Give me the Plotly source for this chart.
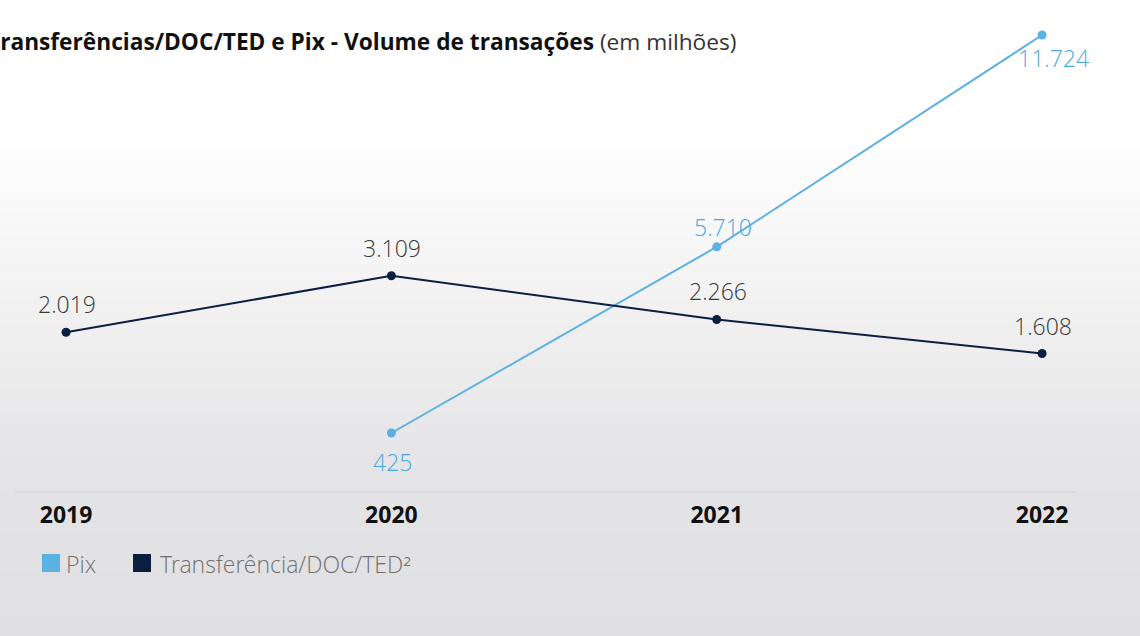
import plotly.graph_objects as go

years = ["2019", "2020", "2021", "2022"]
pix_years = ["2020", "2021", "2022"]
pix_values = [425, 5710, 11724]
ted_values = [2019, 3109, 2266, 1608]
pix_labels = ["425", "5.710", "11.724"]
ted_labels = ["2.019", "3.109", "2.266", "1.608"]
legend_names = ["Pix", "Transferência/DOC/TED²"]

W, H = 1140, 636
PLOT_BOTTOM = 492  # px from top

PIX_COLOR = "#5cb1e3"
PIX_TEXT = "#4aa9dc"
TED_COLOR = "#0c1f40"
FONT = "Open Sans"
LIGHT = "Open Sans Light, Open Sans"

def py(px):
    return (PLOT_BOTTOM - px) / PLOT_BOTTOM

fig = go.Figure()

fig.add_trace(go.Scatter(
    x=years, y=ted_values, yaxis="y2", mode="lines+markers",
    line=dict(color=TED_COLOR, width=2), marker=dict(color=TED_COLOR, size=9),
    showlegend=False, cliponaxis=False, hoverinfo="skip"))

fig.add_trace(go.Scatter(
    x=pix_years, y=pix_values, mode="lines+markers",
    line=dict(color=PIX_COLOR, width=2), marker=dict(color=PIX_COLOR, size=9),
    showlegend=False, cliponaxis=False, hoverinfo="skip"))

annotations = []
for x, v, t in zip(years, ted_values, ted_labels):
    annotations.append(dict(x=years.index(x), y=v, xref="x", yref="y2", text=t,
                            showarrow=False, yshift=28, xshift=1,
                            font=dict(family=LIGHT, size=23, color="#3a3a3a", weight=300)))
pix_shifts = [(1, -29), (6, 20), (11, -23)]
for (x, v, t), (dx, dy) in zip(zip(pix_years, pix_values, pix_labels), pix_shifts):
    annotations.append(dict(x=years.index(x), y=v, xref="x", yref="y", text=t,
                            showarrow=False, yshift=dy, xshift=dx,
                            font=dict(family=LIGHT, size=23, color=PIX_TEXT, weight=300)))

# title
annotations.append(dict(
    xref="paper", yref="paper", x=-15 / W, y=py(42), xanchor="left", yanchor="middle",
    showarrow=False,
    text="<b>Transferências/DOC/TED e Pix - Volume de transações</b> <span style='color:#333333'>(em milhões)</span>",
    font=dict(family=FONT, size=22.7, color="#111111")))

# background gradient
shapes = []
step = 4
for y0 in range(0, H, step):
    yc = y0 + step / 2
    if yc < 130:
        c = (255, 255, 255)
    elif yc < 470:
        t = (yc - 130) / 340
        c = (255 - t * 27, 255 - t * 27, 255 - t * 25)
    else:
        t = (yc - 470) / (H - 470)
        c = (228 - t * 4, 228 - t * 4, 230 - t * 3)
    shapes.append(dict(type="rect", xref="paper", yref="paper", x0=-0.01, x1=1.01,
                       y0=py(y0 + step + 0.5), y1=py(y0),
                       fillcolor=f"rgb({round(c[0])},{round(c[1])},{round(c[2])})",
                       line=dict(width=0), layer="below"))
# baseline
shapes.append(dict(type="line", xref="paper", yref="paper", x0=15 / W, x1=1076 / W,
                   y0=0, y1=0, line=dict(color="#d2d2d4", width=1), layer="below"))

# legend (squares + texts)
legend_items = [(42, PIX_COLOR, 66), (133, TED_COLOR, 160)]
for (sx, col, tx), name in zip(legend_items, legend_names):
    shapes.append(dict(type="rect", xref="paper", yref="paper", x0=sx / W, x1=(sx + 18) / W,
                       y0=py(572), y1=py(554), fillcolor=col, line=dict(width=0)))
    annotations.append(dict(xref="paper", yref="paper", x=(tx - 2) / W, y=py(564),
                            xanchor="left", yanchor="middle", showarrow=False, text=name,
                            font=dict(family=LIGHT, size=23, color="#707070", weight=300)))

fig.update_layout(
    width=W, height=H,
    margin=dict(l=0, r=0, t=0, b=H - PLOT_BOTTOM),
    paper_bgcolor="#ffffff", plot_bgcolor="rgba(0,0,0,0)",
    shapes=shapes, annotations=annotations, showlegend=False,
    xaxis=dict(type="category", categoryorder="array", categoryarray=years,
               range=[-0.203, 3.301], showgrid=False, zeroline=False, showline=False,
               ticks="", ticklabelstandoff=7,
               tickfont=dict(family=FONT, size=23, color="#111111", weight=700)),
    yaxis=dict(range=[-1250, 12718], visible=False, showgrid=False, zeroline=False),
    yaxis2=dict(range=[-1064, 8431], visible=False, overlaying="y", showgrid=False,
                zeroline=False),
)

fig.write_html("out.html", config={"displayModeBar": False},
               post_script="document.body.style.margin='0';document.body.style.padding='0';")
